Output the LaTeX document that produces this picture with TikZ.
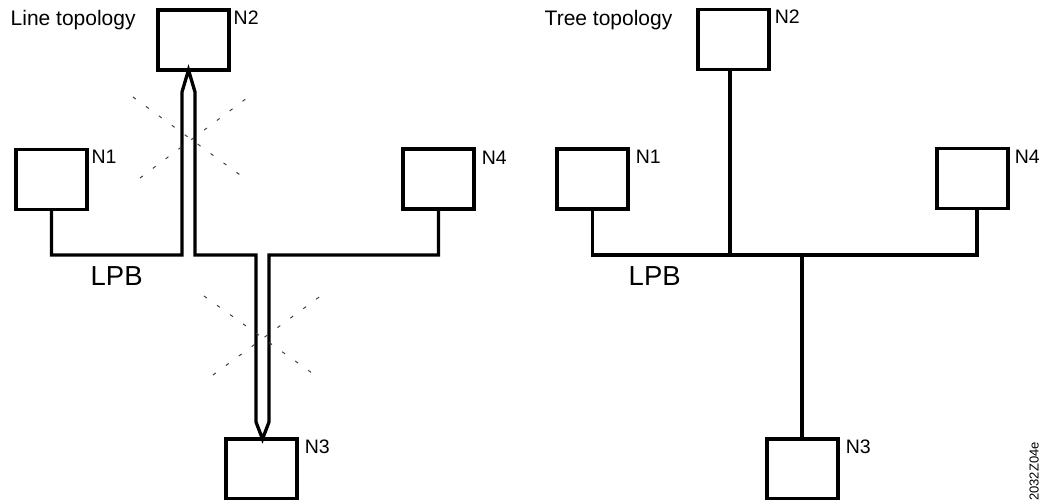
\documentclass[tikz,border=0pt]{standalone}
\usepackage{fontspec}
\setmainfont{Liberation Sans}
\begin{document}
\begin{tikzpicture}[x=1pt,y=-1pt,
  station/.style={draw, line width=3.3pt, minimum width=71pt, minimum height=60pt,
                  inner sep=0pt, outer sep=0pt},
  bus/.style={line width=3.3pt, line join=miter},
  cut/.style={line width=1pt, black!75, dash pattern=on 3.5pt off 12.5pt},
  lbl/.style={font=\fontsize{19.5}{22}\selectfont, inner sep=0pt, anchor=base west},
  title/.style={font=\fontsize{21}{24}\selectfont, inner sep=0pt, anchor=base west},
  buslbl/.style={font=\fontsize{27.5}{30}\selectfont, inner sep=0pt, anchor=base west},
  code/.style={font=\fontsize{13}{15}\selectfont, inner sep=0pt, rotate=90, anchor=base east}]
\useasboundingbox (0,0) rectangle (1056,499);

% ---------- line topology ----------
\node[title] (ttl) at (10.5,25) {Line topology};

\node[station] (L2) at (193.5,40) {};
\node[station] (L1) at (51.5,179.5) {};
\node[station] (L4) at (438.5,179) {};
\node[station] (L3) at (261.5,469) {};

\node[lbl] (L2n) at (233.5,24) {N2};
\node[lbl] (L1n) at (91.3,163) {N1};
\node[lbl] (L4n) at (481.6,164) {N4};
\node[lbl] (L3n) at (304.6,453) {N3};
\node[buslbl] (Lbus) at (90.5,285) {LPB};

% the bus runs as one line from N1 past N2 and N3 to N4
\coordinate (tipA) at (188.5,70);
\coordinate (tipB) at (262.5,439);
\coordinate (cornerR) at (438.5,255);
\draw[bus] (L1.south) |- (182,255) -- (182,92) -- (tipA) -- (195,92)
           |- (256,255) -- (256,422) -- (tipB) -- (269,422)
           |- (cornerR) -- (L4.south);

% crossed-out branches
\draw[cut] (133,97) -- (247,180);
\draw[cut] (140,178) -- (255,92);
\draw[cut] (204,296) -- (319,378);
\draw[cut] (213,375) -- (326,292);

% ---------- tree topology ----------
\node[title] (ttr) at (544.5,25) {Tree topology};

\node[station] (R2) at (733.5,39.5) {};
\node[station] (R1) at (592.5,179) {};
\node[station] (R4) at (972.5,178.5) {};
\node[station] (R3) at (802.5,469) {};

\node[lbl] (R2n) at (774.6,23) {N2};
\node[lbl] (R1n) at (635.6,163) {N1};
\node[lbl] (R4n) at (1014.6,163) {N4};
\node[lbl] (R3n) at (845.6,453) {N3};
\node[buslbl] (Rbus) at (628.5,285) {LPB};

\coordinate (busL) at (592.5,255);
\coordinate (busR) at (977,255);
\coordinate (j2) at (730,255);
\coordinate (j3) at (802,255);
\draw[bus] (R1.south) -- (busL) -- (busR) -- (busR |- R4.south);
\draw[bus] (R2.south -| j2) -- (j2);
\draw[bus] (j3) -- (j3 |- R3.north);

\node[code] (doc) at (1038.5,442) {2032Z04e};
\end{tikzpicture}
\end{document}
